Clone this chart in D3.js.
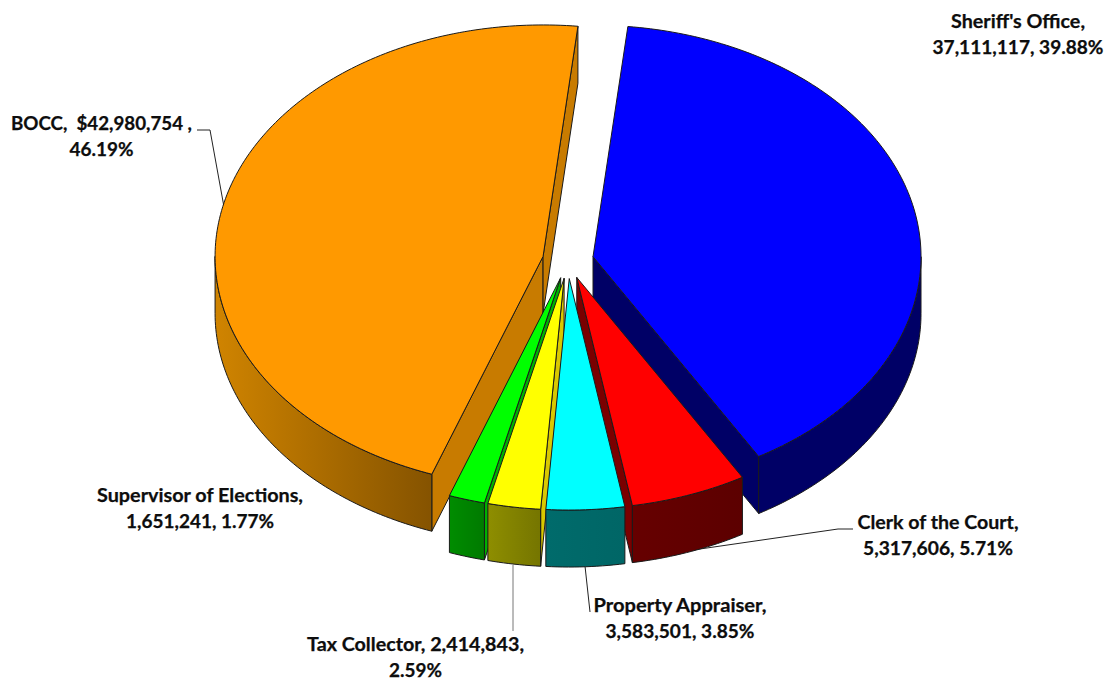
<!DOCTYPE html>
<html>
<head>
<meta charset="utf-8">
<script src="https://cdn.jsdelivr.net/npm/d3@7/dist/d3.min.js"></script>
<style>
html,body{margin:0;padding:0;background:#fff}
svg{display:block}
text{font-family:Lato,"Open Sans",sans-serif;font-weight:700;font-size:19px;fill:#0d0d0d;stroke:#0d0d0d;stroke-width:.25px}
</style>
</head>
<body>
<svg id="chart" width="1111" height="681"></svg>
<script>
// Budget shares by office, clockwise from the first slice
const offices = ["Sheriff's Office","Clerk of the Court","Property Appraiser","Tax Collector","Supervisor of Elections","BOCC"];
const amounts = [37111117,5317606,3583501,2414843,1651241,42980754];

// Colours per office: top face, cut face, rim gradient left and right
const topColors  = ["#0000ff","#ff0000","#00ffff","#ffff00","#00ff00","#ff9900"];
const cutColors  = ["#000066","#7a0000","#006b6b","#d9c800","#00b000","#c87b00"];
const rimLeft    = ["#000066","#660000","#006b6b","#8e8e00","#008c00","#d08400"];
const rimRight   = ["#000066","#5c0000","#006666","#757500","#007a00","#855300"];

// Paint order, back to front
const paintOrder = [5,0,4,3,1,2];

// Label lines, their set widths and anchors
const labelLines = [
  ["Sheriff's Office,","37,111,117, 39.88%"],
  ["Clerk of the Court,","5,317,606, 5.71%"],
  ["Property Appraiser,","3,583,501, 3.85%"],
  ["Tax Collector, 2,414,843,","2.59%"],
  ["Supervisor of Elections,","1,651,241, 1.77%"],
  ["BOCC,  $42,980,754 ,","46.19%"]
];
const labelWidths = [[134,171],[161,150],[173,149],[217,53],[206,148],[181,64]];
const labelX = [1018,938,680,415.5,200,101.5];
const labelY = [28,528.5,611.5,651,502,130];
const lineGap = 26;

// Leader lines from label to slice
const leaders = [
  null,
  [[853,529],[838,529],[693,550]],
  [[590,612],[585,566]],
  [[513,631],[513,565]],
  null,
  [[197,130],[210,130],[224,207]]
];
const leaderColors = ["#000","#222","#222","#777","#000","#222"];

const svg = d3.select("#chart");
const defs = svg.append("defs");

// Tilted disc: unit circle mapped to the screen
const cx = 568, cy = 260.5, rx = 328, ry = 231.5, depth = 57, explode = 0.078;
const xScale = d3.scaleLinear().domain([-1,1]).range([cx-rx,cx+rx]);
const yScale = d3.scaleLinear().domain([-1,1]).range([cy-ry,cy+ry]);

const startDeg = 6.1;
const pie = d3.pie().sort(null)
  .startAngle(startDeg*Math.PI/180)
  .endAngle((startDeg+360)*Math.PI/180);
const arcs = pie(amounts);

const line = d3.line().x(d=>d[0]).y(d=>d[1]);

arcs.forEach(a=>{
  const t0 = a.startAngle, t1 = a.endAngle, mid = (t0+t1)/2;
  const ox = explode*Math.sin(mid), oy = -explode*Math.cos(mid);
  const pt = (t,h=0)=>[xScale(ox+Math.sin(t)), yScale(oy-Math.cos(t))+h];
  const apex = h=>[xScale(ox), yScale(oy)+h];
  const sweep = (a0,a1,h)=>{
    const n = Math.max(2,Math.ceil((a1-a0)/(Math.PI/180)));
    return d3.range(n+1).map(k=>pt(a0+(a1-a0)*k/n,h));
  };
  a.geo = {pt,apex,sweep,t0,t1};
});

// Leader lines go underneath the slices
svg.append("g").selectAll("path")
  .data(leaders.map((l,i)=>({l,i})).filter(d=>d.l))
  .join("path")
  .attr("d",d=>line(d.l))
  .attr("fill","none")
  .attr("stroke",d=>leaderColors[d.i])
  .attr("stroke-width",1);

const edge = "#1a1a1a";
const slices = svg.append("g").selectAll("g")
  .data(paintOrder.map(i=>arcs[i]))
  .join("g");

slices.each(function(a){
  const g = d3.select(this), i = a.index, {pt,apex,sweep,t0,t1} = a.geo;
  const face = (t)=>[apex(0),pt(t,0),pt(t,depth),apex(depth)];

  // Cut faces that turn towards the viewer
  if (Math.sin(t0)<0) g.append("path").attr("d",line(face(t0))+"Z")
    .attr("fill",cutColors[i]).attr("stroke",edge).attr("stroke-width",1);
  if (Math.sin(t1)>0) g.append("path").attr("d",line(face(t1))+"Z")
    .attr("fill",cutColors[i]).attr("stroke",edge).attr("stroke-width",1);

  // Outer rim, front half of the disc only
  const r0 = Math.max(t0,Math.PI/2), r1 = Math.min(t1,Math.PI*1.5);
  if (r1>r0){
    const topEdge = sweep(r0,r1,0), lowEdge = sweep(r0,r1,depth).reverse();
    const xs = topEdge.map(d=>d[0]);
    const grad = defs.append("linearGradient").attr("id","rim"+i)
      .attr("gradientUnits","userSpaceOnUse")
      .attr("x1",d3.min(xs)).attr("x2",d3.max(xs)).attr("y1",0).attr("y2",0);
    grad.append("stop").attr("offset",0).attr("stop-color",rimLeft[i]);
    grad.append("stop").attr("offset",1).attr("stop-color",rimRight[i]);
    g.append("path").attr("d",line(topEdge.concat(lowEdge))+"Z")
      .attr("fill",`url(#rim${i})`).attr("stroke",edge).attr("stroke-width",1);
  }

  // Top face
  g.append("path").attr("d",line([apex(0)].concat(sweep(t0,t1,0)))+"Z")
    .attr("fill",topColors[i]).attr("stroke",edge).attr("stroke-width",1)
    .attr("stroke-linejoin","round");
});

// Labels, one text element per line
svg.append("g").selectAll("text")
  .data(labelLines.flatMap((lines,i)=>lines.map((s,k)=>({s,k,i}))))
  .join("text")
  .attr("text-anchor","middle")
  .attr("xml:space","preserve")
  .style("white-space","pre")
  .attr("x",d=>labelX[d.i])
  .attr("y",d=>labelY[d.i]+d.k*lineGap)
  .attr("textLength",d=>labelWidths[d.i][d.k])
  .attr("lengthAdjust","spacingAndGlyphs")
  .text(d=>d.s);
</script>
</body>
</html>
